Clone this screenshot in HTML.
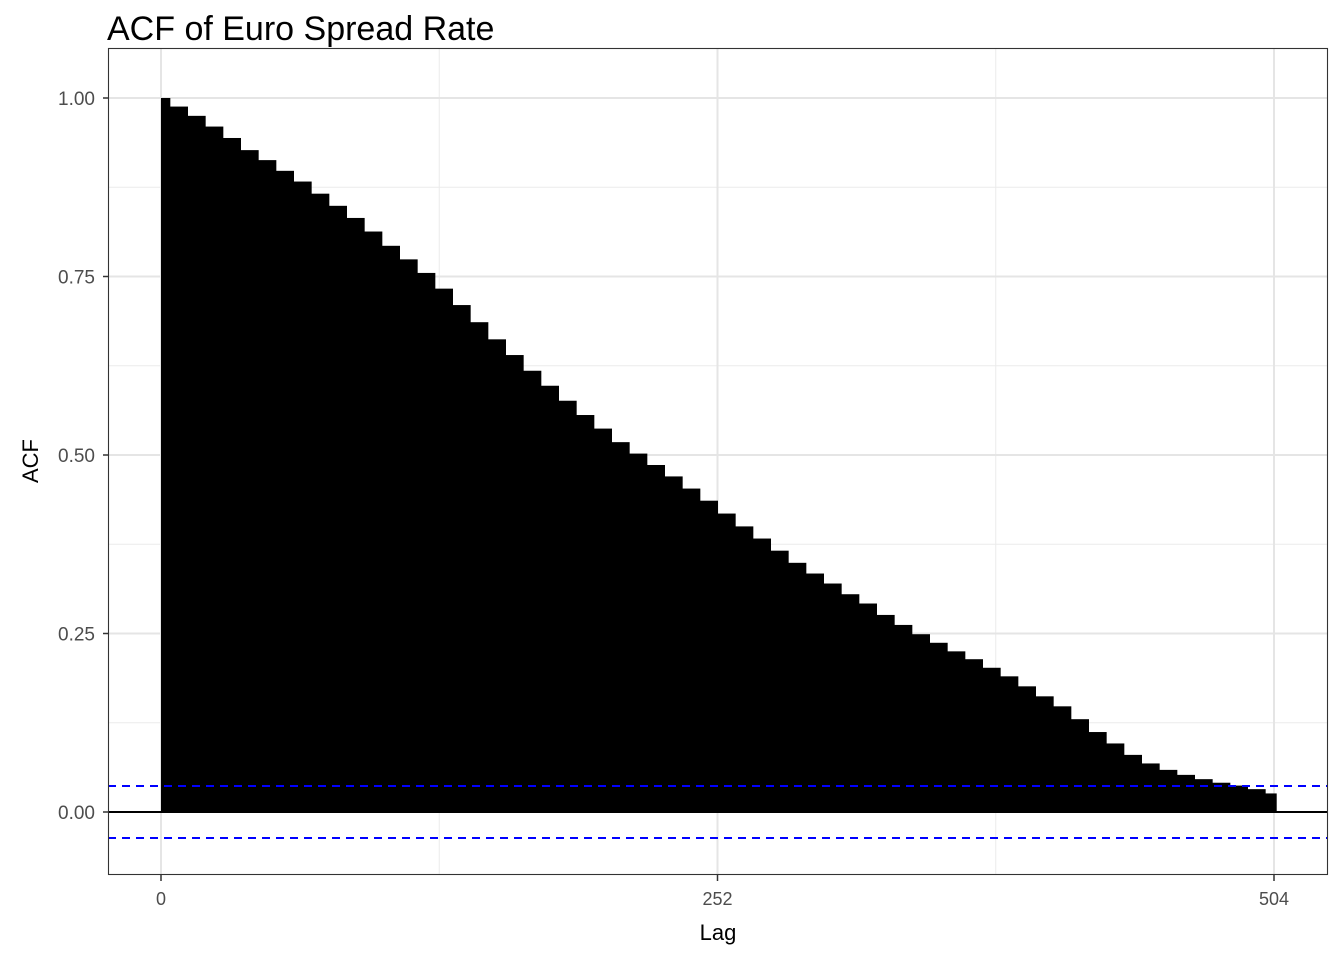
<!DOCTYPE html>
<html><head><meta charset="utf-8"><style>
body{margin:0;background:#fff;font-family:"Liberation Sans",sans-serif;}
svg{display:block}
</style></head><body>
<svg id="chart" width="1344" height="960" xmlns="http://www.w3.org/2000/svg" font-family="Liberation Sans, sans-serif">
<text x="107" y="40" font-size="34" fill="#000">ACF of Euro Spread Rate</text>
<g id="grid"></g>
<g id="bars"></g>
<g id="lines"></g>
<rect x="108.5" y="48.5" width="1219" height="826" fill="none" stroke="#333" stroke-width="1.1"/>
<g id="ticks"></g>
<text x="718" y="940" font-size="22" text-anchor="middle">Lag</text>
<text transform="translate(38,461) rotate(-90)" font-size="22" text-anchor="middle">ACF</text>
</svg>
<script>
const lags = [];
for (let l = 0; l <= 504; l += 8) lags.push(l);
const acfValues = [1.000,0.988,0.975,0.960,0.944,0.927,0.913,0.898,0.883,0.866,0.849,0.832,0.813,0.793,0.774,0.755,0.733,0.710,0.686,0.662,0.640,0.618,0.597,0.576,0.556,0.537,0.518,0.502,0.486,0.470,0.453,0.436,0.418,0.400,0.383,0.366,0.349,0.334,0.320,0.305,0.292,0.276,0.262,0.249,0.237,0.225,0.214,0.202,0.190,0.176,0.162,0.148,0.130,0.112,0.096,0.080,0.068,0.059,0.052,0.046,0.041,0.037,0.032,0.026];
const confBound = 0.0365;
const xTicks = [0,252,504];
const yTicks = [0,0.25,0.5,0.75,1.0];
const yTickLabels = ["0.00","0.25","0.50","0.75","1.00"];
const NS='http://www.w3.org/2000/svg';
const X = l => 161 + l*(1113/504);
const Y = v => 812 - v*714;
function mk(tag, attrs, parent){const e=document.createElementNS(NS,tag);for(const k in attrs)e.setAttribute(k,attrs[k]);parent.appendChild(e);return e;}
const grid=document.getElementById('grid'),bars=document.getElementById('bars'),lines=document.getElementById('lines'),ticks=document.getElementById('ticks');
for (let i=0;i<yTicks.length-1;i++){const v=(yTicks[i]+yTicks[i+1])/2;
 const g=mk('line',{x1:108,x2:1328,y1:Y(v),y2:Y(v),stroke:'#ebebeb','stroke-width':1},grid);
 }
for (let i=0;i<xTicks.length-1;i++){const v=(xTicks[i]+xTicks[i+1])/2;
 const g=mk('line',{x1:X(v),x2:X(v),y1:48,y2:875,stroke:'#ebebeb','stroke-width':1},grid);
 }
yTicks.forEach((v,i)=>{
 const g=mk('line',{x1:108,x2:1328,y1:Y(v),y2:Y(v),stroke:'#e5e5e5','stroke-width':2},grid);
 
 const t=mk('line',{x1:103,x2:108,y1:Y(v),y2:Y(v),stroke:'#333','stroke-width':1.5},ticks);
 
 const tx=mk('text',{x:95,y:Y(v)+7,'font-size':19,fill:'#4d4d4d','text-anchor':'end'},ticks);
 tx.textContent=yTickLabels[i];
 
});
xTicks.forEach(v=>{
 const g=mk('line',{x1:X(v),x2:X(v),y1:48,y2:875,stroke:'#e5e5e5','stroke-width':2},grid);
 
 const t=mk('line',{x1:X(v),x2:X(v),y1:875,y2:881,stroke:'#333','stroke-width':1.5},ticks);
 
 const tx=mk('text',{x:X(v),y:905,'font-size':18,fill:'#4d4d4d','text-anchor':'middle'},ticks);
 tx.textContent=String(v);
 
});
lags.forEach((l,i)=>{
 const a=Math.max(0,l-4), b=Math.min(504,l+4)+(i===lags.length-1?1:0);
 const x0=X(a), x1=X(b), v=acfValues[i];
 const r=mk('rect',{x:x0,y:Y(v),width:x1-x0+0.5,height:Y(0)-Y(v),fill:'#000'},bars);
 
});
const z=mk('line',{x1:108,x2:1328,y1:Y(0),y2:Y(0),stroke:'#000','stroke-width':2},lines);

[confBound,-confBound].forEach(c=>{
 const d=mk('line',{x1:108,x2:1328,y1:Y(c),y2:Y(c),stroke:'#0000ff','stroke-width':2,'stroke-dasharray':'8,6'},lines);
 
});
</script>
</body></html>
